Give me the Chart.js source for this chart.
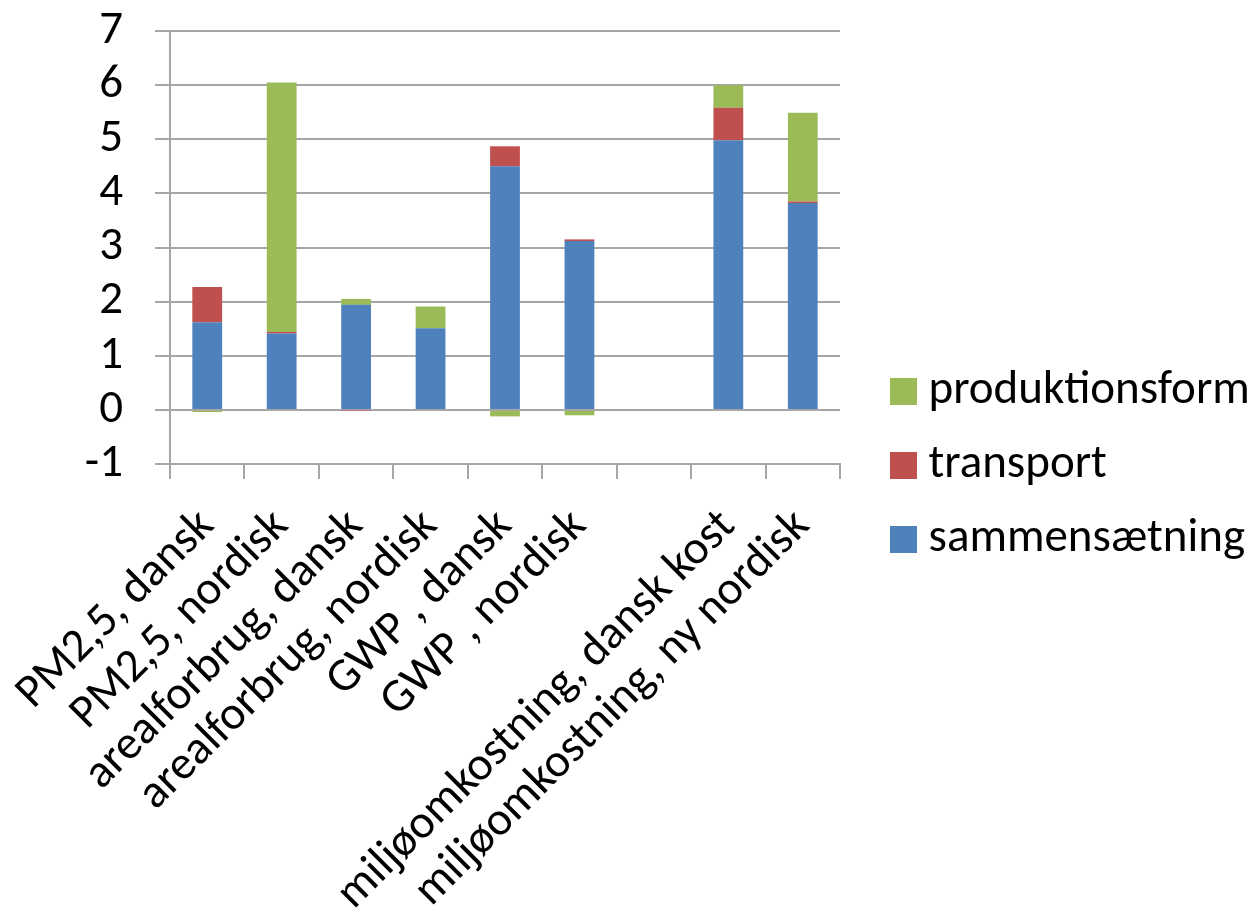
<!DOCTYPE html>
<html>
<head>
<meta charset="utf-8">
<script src="https://cdn.jsdelivr.net/npm/chart.js@4/dist/chart.umd.min.js"></script>
<style>
  html, body { margin: 0; padding: 0; background: #fff; }
  #wrap { width: 1258px; height: 917px; }
</style>
</head>
<body>
<div id="wrap"><canvas id="barChart"></canvas></div>
<script>
// kategorier og serier
const categories = [
    'PM2,5, dansk',
    'PM2,5, nordisk',
    'arealforbrug, dansk',
    'arealforbrug, nordisk',
    'GWP , dansk',
    'GWP , nordisk',
    '',
    'miljøomkostning, dansk kost',
    'miljøomkostning, ny nordisk'
];
const sammensaetning = [1.62, 1.41, 1.94, 1.51, 4.50, 3.12, null, 4.98, 3.82];
const transport = [0.65, 0.03, -0.01, 0, 0.37, 0.03, null, 0.60, 0.03];
const produktionsform = [-0.04, 4.61, 0.11, 0.40, -0.12, -0.10, null, 0.42, 1.64];
const yTicks = [-1, 0, 1, 2, 3, 4, 5, 6, 7];

const fontFamily = 'Carlito, Lato, sans-serif';
const fontSize = 47;
const gridColor = '#a6a6a6';

// lille firkant til legenden (så afstanden til teksten bliver som i Excel)
function swatch(color) {
    const c = document.createElement('canvas');
    c.width = 27;
    c.height = 27;
    const g = c.getContext('2d');
    g.fillStyle = color;
    g.fillRect(0, 0, 27, 27);
    return c;
}

// legenden: fast bredde og flyttet lidt, som i Excel-figuren
const legendShift = {
    id: 'legendShift',
    beforeInit(chart) {
        const origFit = chart.legend.fit;
        chart.legend.fit = function () {
            origFit.call(this);
            this.width = 418;
        };
    },
    afterLayout(chart) {
        chart.legend.left += 34;
        chart.legend.top -= 9;
        chart.legend.bottom -= 9;
    }
};

const barChartData = {
    labels: categories,
    datasets: [
        { label: 'sammensætning', data: sammensaetning, backgroundColor: '#4f81bd', pointStyle: swatch('#4f81bd') },
        { label: 'transport', data: transport, backgroundColor: '#c0504d', pointStyle: swatch('#c0504d') },
        { label: 'produktionsform', data: produktionsform, backgroundColor: '#9bbb59', pointStyle: swatch('#9bbb59') }
    ]
};

const barChartOptions = {
    responsive: false,
    animation: false,
    devicePixelRatio: 1,
    layout: { padding: { top: 31, left: 0, right: 0, bottom: 0 } },
    datasets: {
        bar: { categoryPercentage: 0.4, barPercentage: 1.0 }
    },
    plugins: {
        tooltip: { enabled: false },
        legend: {
            position: 'right',
            reverse: true,
            labels: {
                font: { family: fontFamily, size: fontSize },
                color: '#000',
                usePointStyle: true,
                boxWidth: 4,
                boxHeight: 27,
                padding: 27
            }
        }
    },
    scales: {
        x: {
            stacked: true,
            offset: true,
            grid: {
                offset: true,
                drawOnChartArea: false,
                drawTicks: true,
                tickLength: 15,
                color: gridColor,
                lineWidth: 2
            },
            border: { display: true, color: gridColor, width: 2 },
            ticks: {
                font: { family: fontFamily, size: fontSize },
                color: '#000',
                minRotation: 45,
                maxRotation: 45,
                autoSkip: false,
                padding: 20
            },
            afterFit(scale) {
                scale.height = 917 - 464;
                scale.paddingLeft = 0;
                scale.paddingRight = 0;
            }
        },
        y: {
            stacked: true,
            min: -1,
            max: 7,
            afterBuildTicks(scale) { scale.ticks = yTicks.map(v => ({ value: v })); },
            grid: {
                color: gridColor,
                lineWidth: 2,
                drawTicks: true,
                tickLength: 15
            },
            border: { display: true, color: gridColor, width: 2 },
            ticks: {
                font: { family: fontFamily, size: fontSize },
                color: '#000',
                padding: 32,
                autoSkip: false
            },
            afterFit(scale) {
                scale.width = 170;
                scale.paddingTop = 0;
                scale.paddingBottom = 0;
            }
        }
    }
};

const canvas = document.getElementById('barChart');
canvas.width = 1258;
canvas.height = 917;
const barChart = new Chart(canvas.getContext('2d'), {
    type: 'bar',
    data: barChartData,
    options: barChartOptions,
    plugins: [legendShift]
});
</script>
</body>
</html>
